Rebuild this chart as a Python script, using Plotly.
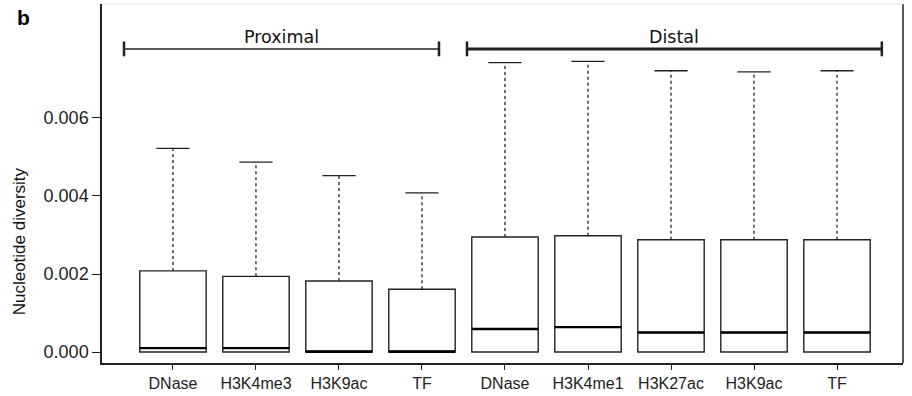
import plotly.graph_objects as go

# ---- data ----
labels = ["DNase", "H3K4me3", "H3K9ac", "TF",
          "DNase", "H3K4me1", "H3K27ac", "H3K9ac", "TF"]
groups = ["Proximal"] * 4 + ["Distal"] * 5
q1 = [0.0] * 9
medians = [0.00010, 0.00010, 0.00001, 0.00001,
           0.00059, 0.00064, 0.00050, 0.00050, 0.00050]
q3 = [0.00208, 0.00194, 0.00182, 0.00161,
      0.00295, 0.00298, 0.00288, 0.00288, 0.00288]
upper = [0.00522, 0.00487, 0.00452, 0.00408,
         0.00742, 0.00745, 0.00721, 0.00718, 0.00721]
yticks = [0.000, 0.002, 0.004, 0.006]

pos = list(range(1, len(labels) + 1))
BOXW = 0.8
CAPW = 0.4
INK = "#222222"

fig = go.Figure()

for p, a, m, b in zip(pos, q1, medians, q3):
    fig.add_trace(go.Box(x=[p], q1=[a], median=[m], q3=[b],
                         lowerfence=[a], upperfence=[b],
                         width=BOXW, fillcolor="white",
                         line=dict(color=INK, width=1.4),
                         boxpoints=False, showlegend=False, hoverinfo="skip"))

# whiskers (dotted), caps, medians
wx, wy, cx, cy, mx, my = [], [], [], [], [], []
for p, b, u, m in zip(pos, q3, upper, medians):
    wx += [p, p, None]
    wy += [b, u, None]
    cx += [p - CAPW / 2, p + CAPW / 2, None]
    cy += [u, u, None]
    mx += [p - BOXW / 2, p + BOXW / 2, None]
    my += [m, m, None]

fig.add_trace(go.Scatter(x=wx, y=wy, mode="lines",
                         line=dict(color=INK, width=1.3, dash="dot"),
                         showlegend=False, hoverinfo="skip"))
fig.add_trace(go.Scatter(x=cx, y=cy, mode="lines",
                         line=dict(color=INK, width=1.3),
                         showlegend=False, hoverinfo="skip"))
fig.add_trace(go.Scatter(x=mx, y=my, mode="lines",
                         line=dict(color="#000000", width=2.4),
                         showlegend=False, hoverinfo="skip"))

# group brackets
bracket_y = 0.00777
tick_h = 0.00019
brackets = [("Proximal", 0.41, 4.205, 1.5), ("Distal", 4.542, 9.54, 3)]
for name, x0, x1, w in brackets:
    fig.add_shape(type="line", x0=x0, x1=x1, y0=bracket_y, y1=bracket_y,
                  line=dict(color=INK, width=w))
    for xx in (x0, x1):
        fig.add_shape(type="line", x0=xx, x1=xx, y0=bracket_y - tick_h,
                      y1=bracket_y + tick_h, line=dict(color=INK, width=2.5))
    fig.add_annotation(x=(x0 + x1) / 2, y=bracket_y, text=name,
                       showarrow=False, yshift=12,
                       font=dict(family="DejaVu Sans", size=17.5, color="#111"))

# frame: right dark, top light
fig.add_shape(type="line", xref="paper", yref="paper", x0=1, x1=1, y0=0, y1=1,
              line=dict(color=INK, width=1.5))
fig.add_shape(type="line", xref="paper", yref="paper", x0=0, x1=1, y0=1, y1=1,
              line=dict(color="#e4e4e4", width=1))

fig.add_annotation(xref="paper", yref="paper", x=-0.108, y=0.962, text="<b>b</b>",
                   showarrow=False, xanchor="left", yanchor="middle",
                   font=dict(family="Liberation Sans", size=21, color="#000"))
fig.add_annotation(xref="paper", yref="paper", x=-0.1036, y=0.339,
                   text="Nucleotide diversity", textangle=-90, showarrow=False,
                   xanchor="center", yanchor="middle",
                   font=dict(family="Liberation Sans", size=17, color="#111"))

fig.update_layout(
    width=912, height=396,
    margin=dict(l=102, r=9, t=4, b=31),
    plot_bgcolor="white", paper_bgcolor="white",
    xaxis=dict(range=[0.145, 9.795], tickmode="array", tickvals=pos,
               ticktext=labels, showgrid=False, zeroline=False,
               showline=True, linecolor=INK, linewidth=1.5,
               ticks="outside", ticklen=5, tickcolor=INK,
               tickfont=dict(family="Liberation Sans", size=16, color="#222")),
    yaxis=dict(range=[-0.00028, 0.00892], tickmode="array", tickvals=yticks,
               ticktext=[f"{v:.3f}" for v in yticks], showgrid=False,
               zeroline=False, showline=True, linecolor=INK, linewidth=1.5,
               ticks="outside", ticklen=8, tickcolor=INK,
               tickfont=dict(family="Liberation Sans", size=18, color="#222")),
)

fig.write_html("out.html")
